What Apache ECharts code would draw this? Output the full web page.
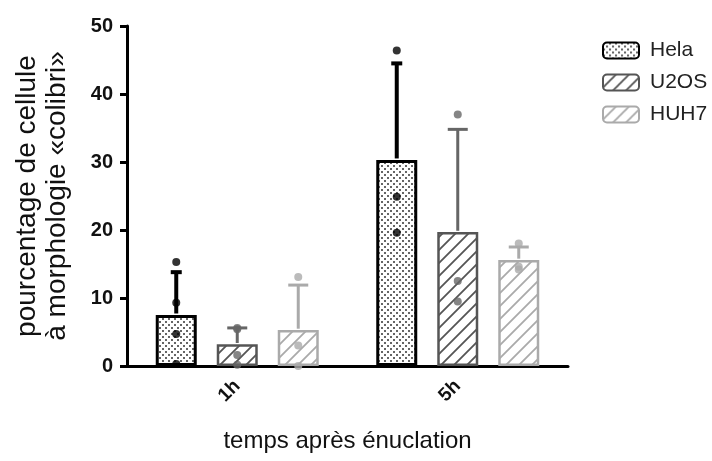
<!DOCTYPE html>
<html>
<head>
<meta charset="utf-8">
<style>
	html,body{ margin:0; padding:0; background:#fff;}
	#main{ width:712px; height:461px;}
</style>
</head>
<body>
<div id="main"></div>
<script src="https://cdn.jsdelivr.net/npm/echarts@6/dist/echarts.min.js"></script>
<script>
var categories=['1h','5h'];
var seriesNames=['Hela','U2OS','HUH7'];
// moyennes
var helaMean=[7.5,30.3];
var u2osMean=[3.2,19.7];
var huh7Mean=[5.3,15.6];
// écart-type (barre du haut seulement)
var helaSd=[6.3,14.2];
var u2osSd=[2.4,15.1];
var huh7Sd=[6.6,1.9];
// points individuels [catégorie, valeur]
var helaPts=[[0,15.3],[0,9.3],[0,4.7],[0,0.3],[1,46.4],[1,24.9],[1,19.6]];
var u2osPts=[[0,5.6],[0,5.4],[0,1.6],[0,0.2],[1,37.0],[1,12.5],[1,9.5]];
var huh7Pts=[[0,13.1],[0,3.0],[0,0.0],[1,18.0],[1,14.6],[1,14.2]];
var yTicks=[0,10,20,30,40,50];

var barW=41, gapPx=20;
var font='Liberation Sans, Arial, sans-serif';

function dotPattern(){
	var c=document.createElement('canvas');
	c.width=6;c.height=6;
	var g=c.getContext('2d');
	g.fillStyle='#fff';g.fillRect(0,0,6,6);
	g.fillStyle='#666';
	g.fillRect(0,0,2,2);
	g.fillRect(3,3,2,2);
	return c;
}
function hatchPattern(col){
	var s=13;
	var c=document.createElement('canvas');
	c.width=s;c.height=s;
	var g=c.getContext('2d');
	g.fillStyle='#fff';g.fillRect(0,0,s,s);
	g.strokeStyle=col;g.lineWidth=1.8;
	g.beginPath();
	g.moveTo(-1,s+1);g.lineTo(s+1,-1);
	g.moveTo(-1,1);g.lineTo(1,-1);
	g.moveTo(s-1,s+1);g.lineTo(s+1,s-1);
	g.stroke();
	return c;
}

var styles=[
	{fill:{image:dotPattern(),repeat:'repeat'},border:'#000',bw:3,err:'#000',ew:4,cap:11,dot:'#000'},
	{fill:{image:hatchPattern('#555'),repeat:'repeat'},border:'#555',bw:2.5,err:'#666',ew:3,cap:20,dot:'#666'},
	{fill:{image:hatchPattern('#aaa'),repeat:'repeat'},border:'#aaa',bw:2.5,err:'#aaa',ew:3,cap:20,dot:'#aaa'}
];
var means=[helaMean,u2osMean,huh7Mean];
var sds=[helaSd,u2osSd,huh7Sd];
var pts=[helaPts,u2osPts,huh7Pts];

var series=[];
seriesNames.forEach(function(n,i){
	series.push({
		name:n,type:'bar',barWidth:barW,barGap:(gapPx/barW*100)+'%',
		data:means[i],
		itemStyle:{color:styles[i].fill,borderColor:styles[i].border,borderWidth:styles[i].bw},
		emphasis:{disabled:true},z:2
	});
});
seriesNames.forEach(function(n,i){
	var off=(i-1)*(barW+gapPx);
	var st=styles[i];
	series.push({
		name:n+'-err',type:'custom',z:3,
		data:categories.map(function(c,k){return [k,means[i][k],means[i][k]+sds[i][k]];}),
		renderItem:function(params,api){
			var p0=api.coord([api.value(0),api.value(1)]);
			var p1=api.coord([api.value(0),api.value(2)]);
			var x=p0[0]+off;
			var st2={stroke:st.err,lineWidth:st.ew};
			return {type:'group',children:[
				{type:'line',shape:{x1:x,y1:p0[1]-st.bw/2,x2:x,y2:p1[1]},style:st2},
				{type:'line',shape:{x1:x-st.cap/2,y1:p1[1],x2:x+st.cap/2,y2:p1[1]},style:st2}
			]};
		}
	});
	series.push({
		name:n+'-pts',type:'scatter',z:4,symbol:'circle',symbolSize:8,
		symbolOffset:[off,0],
		data:pts[i],
		itemStyle:{color:st.dot},
		emphasis:{disabled:true}
	});
});

var myChart=echarts.init(document.getElementById('main'));
myChart.setOption({
	animation:false,
	textStyle:{fontFamily:font},
	grid:{left:127,top:26,right:144,bottom:95,containLabel:false},
	legend:{
		data:seriesNames,orient:'vertical',left:597,top:35,
		itemWidth:36,itemHeight:16,itemGap:11,
		textStyle:{fontSize:21,color:'#222',fontFamily:font,padding:[0,0,0,6]}
	},
	xAxis:{
		type:'category',data:categories,
		name:'temps après énuclation',nameLocation:'middle',nameGap:63,
		nameTextStyle:{fontSize:24,color:'#111'},
		axisLine:{lineStyle:{color:'#000',width:3}},
		axisTick:{alignWithLabel:true,length:8,lineStyle:{color:'#000',width:3}},
		axisLabel:{rotate:45,fontSize:19,fontWeight:'bold',color:'#111',margin:17}
	},
	yAxis:{
		type:'value',min:0,max:50,interval:10,
		name:'pourcentage de cellule\nà morphologie «colibri»',nameLocation:'middle',nameGap:55,
		nameTextStyle:{fontSize:28,color:'#111',lineHeight:30},
		axisLine:{show:true,lineStyle:{color:'#000',width:3}},
		axisTick:{show:true,length:7,lineStyle:{color:'#000',width:3}},
		axisLabel:{fontSize:20,fontWeight:'bold',color:'#111',margin:14,
			formatter:function(v){return yTicks.indexOf(v)>=0?String(v):'';}},
		splitLine:{show:false}
	},
	series:series
});
</script>
</body>
</html>
